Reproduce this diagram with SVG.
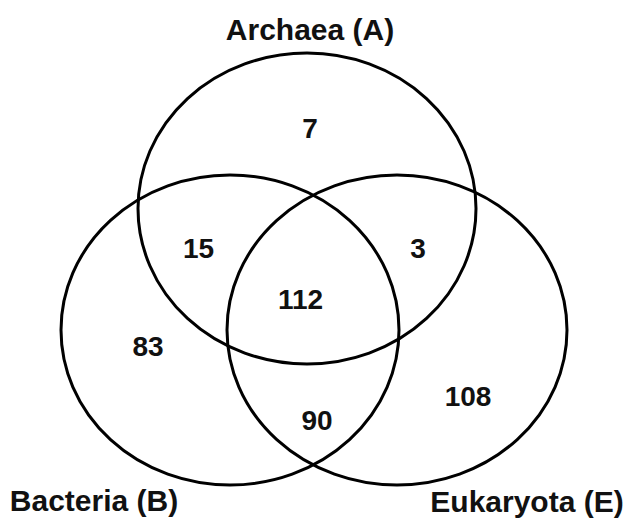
<svg xmlns="http://www.w3.org/2000/svg" width="629" height="522" viewBox="0 0 629 522">
<style>
.c{fill:none;stroke:#000;stroke-width:3}
.n{font-family:"Liberation Sans",Arial,sans-serif;font-weight:bold;font-size:28px;text-anchor:middle;fill:#111}
.l{font-family:"Liberation Sans",Arial,sans-serif;font-weight:bold;font-size:30px;text-anchor:middle;fill:#111}
</style>
<rect width="629" height="522" fill="#fff"/>
<g id="connectors"></g>
<g id="archaea"><ellipse class="c" cx="307" cy="208.5" rx="169" ry="155.5"/><text class="l" x="310" y="40">Archaea (A)</text></g>
<g id="bacteria"><ellipse class="c" cx="230" cy="330" rx="169" ry="155"/><text class="l" x="94" y="511">Bacteria (B)</text></g>
<g id="eukaryota"><ellipse class="c" cx="397" cy="330" rx="170" ry="155"/><text class="l" x="527" y="512">Eukaryota (E)</text></g>
<g id="regions">
<text class="n" x="310" y="138">7</text>
<text class="n" x="198.5" y="258">15</text>
<text class="n" x="418" y="258">3</text>
<text class="n" x="300.5" y="309">112</text>
<text class="n" x="148" y="356">83</text>
<text class="n" x="468" y="406">108</text>
<text class="n" x="317" y="430">90</text>
</g>
</svg>
